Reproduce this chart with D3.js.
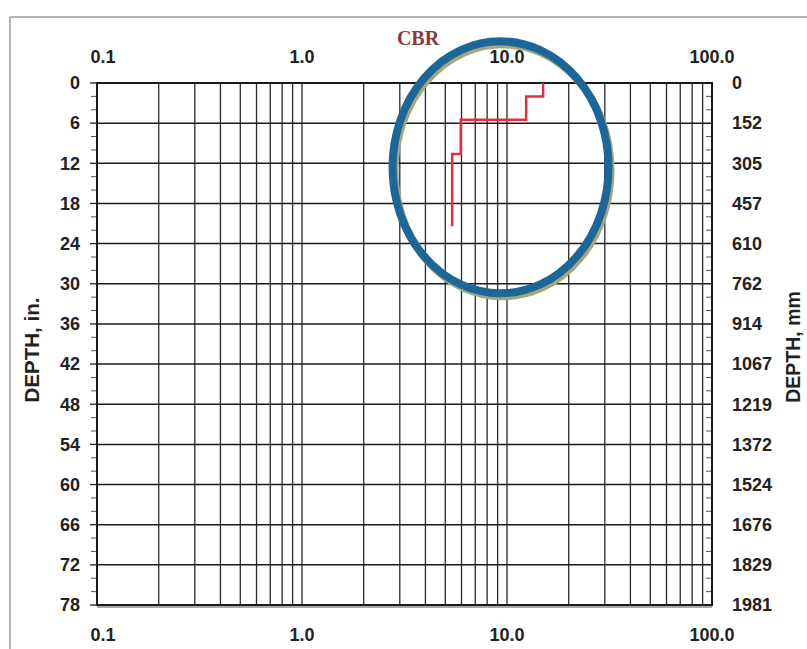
<!DOCTYPE html>
<html>
<head>
<meta charset="utf-8">
<script src="https://cdn.jsdelivr.net/npm/d3@7"></script>
<style>
  html, body { margin: 0; padding: 0; background: #fff; }
  svg { display: block; }
</style>
</head>
<body>
<svg id="chart" width="807" height="649"></svg>
<script>
// ---- data ----
const xTickValues = [0.1, 1, 10, 100];
const xTickLabels = ["0.1", "1.0", "10.0", "100.0"];
const depthInTicks = [0, 6, 12, 18, 24, 30, 36, 42, 48, 54, 60, 66, 72, 78];
const depthMmLabels = ["0", "152", "305", "457", "610", "762", "914", "1067", "1219", "1372", "1524", "1676", "1829", "1981"];
// CBR profile (step layers): top depth, bottom depth (in), CBR value
const layerTop    = [0, 2, 5.5, 10.6];
const layerBottom = [2, 5.5, 10.6, 21.4];
const layerCBR    = [15.0, 12.4, 5.95, 5.4];
// annotation ellipse (centre in data units)
const ellipseCBR = 9.3, ellipseDepth = 12.6;

// ---- layout ----
const svg = d3.select("#chart");
const sans = "'Liberation Sans', Arial, sans-serif";
const L = 97, R = 712, T = 83, B = 605;

const x = d3.scaleLog().domain([0.1, 100]).range([L, R]);
const y = d3.scaleLinear().domain([0, 78]).range([T, B]);

// outer frame
svg.append("line").attr("x1", 10).attr("x2", 807).attr("y1", 17).attr("y2", 17)
  .attr("stroke", "#9a9a9a").attr("stroke-width", 1.5);
svg.append("line").attr("x1", 10).attr("x2", 10).attr("y1", 17).attr("y2", 649)
  .attr("stroke", "#9a9a9a").attr("stroke-width", 1.5);

// vertical grid lines (log minors)
const vgrid = [];
for (let d = 0.1; d < 100; d *= 10) {
  for (let k = 1; k <= 9; k++) vgrid.push(+(d * k).toPrecision(3));
}
vgrid.push(100);
svg.append("g").selectAll("line").data(vgrid).join("line")
  .attr("x1", d => x(d)).attr("x2", d => x(d))
  .attr("y1", T).attr("y2", B)
  .attr("stroke", "#2a2a2a").attr("stroke-width", 1.3);

// horizontal grid lines
svg.append("g").selectAll("line").data(depthInTicks).join("line")
  .attr("x1", L).attr("x2", R)
  .attr("y1", d => y(d)).attr("y2", d => y(d))
  .attr("stroke", "#1a1a1a").attr("stroke-width", 1.5);

// minor ticks left (outside) and right (inside)
const minor = d3.range(0, 79, 2).filter(d => d % 6 !== 0);
svg.append("g").selectAll("line").data(minor).join("line")
  .attr("x1", L - 6).attr("x2", L).attr("y1", d => y(d)).attr("y2", d => y(d))
  .attr("stroke", "#555").attr("stroke-width", 1);
svg.append("g").selectAll("line").data(minor).join("line")
  .attr("x1", R - 6).attr("x2", R).attr("y1", d => y(d)).attr("y2", d => y(d))
  .attr("stroke", "#555").attr("stroke-width", 1);
// major ticks left
svg.append("g").selectAll("line").data(depthInTicks).join("line")
  .attr("x1", L - 7).attr("x2", L).attr("y1", d => y(d)).attr("y2", d => y(d))
  .attr("stroke", "#222").attr("stroke-width", 1.3);

// plot frame
svg.append("rect").attr("x", L).attr("y", T).attr("width", R - L).attr("height", B - T)
  .attr("fill", "none").attr("stroke", "#1a1a1a").attr("stroke-width", 2);
svg.append("line").attr("x1", L).attr("x2", R).attr("y1", B + 2).attr("y2", B + 2)
  .attr("stroke", "#555").attr("stroke-width", 1);

// x tick labels top and bottom
const tickFont = 18;
[57, 635].forEach(yy => {
  svg.append("g").selectAll("text").data(xTickValues).join("text")
    .attr("x", (d, i) => x(d) + (i === 0 ? 6 : 0))
    .attr("y", yy).attr("dy", "0.35em")
    .attr("text-anchor", "middle")
    .style("font-family", sans)
    .attr("font-size", tickFont).attr("font-weight", "bold").attr("fill", "#222")
    .text((d, i) => xTickLabels[i]);
});

// left labels (inches)
svg.append("g").selectAll("text").data(depthInTicks).join("text")
  .attr("x", 80).attr("y", d => y(d)).attr("dy", "0.35em")
  .attr("text-anchor", "end")
  .style("font-family", sans)
  .attr("font-size", tickFont).attr("font-weight", "bold").attr("fill", "#222")
  .text(d => d);

// right labels (mm)
svg.append("g").selectAll("text").data(depthInTicks).join("text")
  .attr("x", 732).attr("y", d => y(d)).attr("dy", "0.35em")
  .attr("text-anchor", "start")
  .style("font-family", sans)
  .attr("font-size", tickFont).attr("font-weight", "bold").attr("fill", "#222")
  .text((d, i) => depthMmLabels[i]);

// axis titles
svg.append("text").attr("transform", "translate(39,350) rotate(-90)")
  .attr("text-anchor", "middle").style("font-family", sans)
  .attr("font-size", 20.5).attr("font-weight", "bold")
  .attr("fill", "#222").text("DEPTH, in.");
svg.append("text").attr("transform", "translate(800,347) rotate(-90)")
  .attr("text-anchor", "middle").style("font-family", sans)
  .attr("font-size", 19.5).attr("font-weight", "bold")
  .attr("fill", "#222").text("DEPTH, mm");

svg.append("text").attr("x", 418).attr("y", 45)
  .attr("text-anchor", "middle").attr("font-size", 20).attr("font-weight", "bold")
  .style("font-family", "'Liberation Serif', 'DejaVu Serif', serif")
  .attr("fill", "#8a3a3e").text("CBR");

// CBR step line
const pts = [];
layerCBR.forEach((v, i) => {
  pts.push([v, layerTop[i]]);
  pts.push([v, layerBottom[i]]);
});
svg.append("path")
  .attr("d", d3.line().x(d => x(d[0])).y(d => y(d[1]))(pts))
  .attr("fill", "none").attr("stroke", "#e0303f").attr("stroke-width", 2.5);

// annotation ellipse
const ecx = x(ellipseCBR), ecy = y(ellipseDepth);
svg.append("ellipse").attr("cx", ecx + 2).attr("cy", ecy + 3).attr("rx", 108).attr("ry", 126)
  .attr("fill", "none").attr("stroke", "#a3a77a").attr("stroke-width", 8);
svg.append("ellipse").attr("cx", ecx).attr("cy", ecy).attr("rx", 108).attr("ry", 126)
  .attr("fill", "none").attr("stroke", "#1c679a").attr("stroke-width", 8);
</script>
</body>
</html>
